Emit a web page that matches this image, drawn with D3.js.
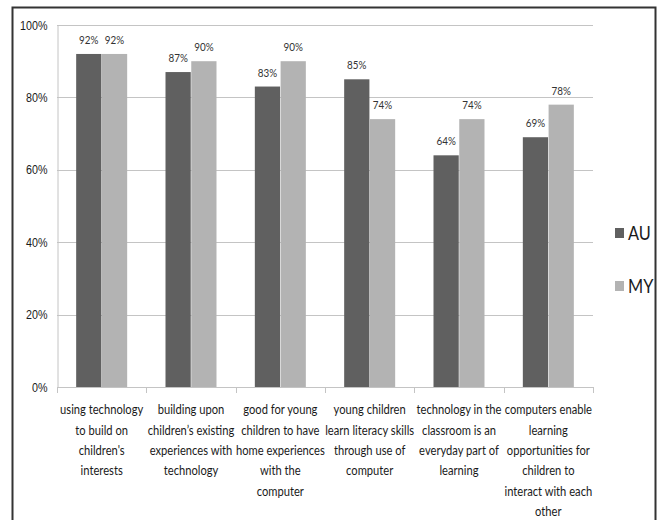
<!DOCTYPE html>
<html>
<head>
<meta charset="utf-8">
<script src="https://cdn.jsdelivr.net/npm/d3@7/dist/d3.min.js"></script>
<style>
  html, body { margin: 0; padding: 0; background: #fff; }
  svg { display: block; font-family: Lato, "Liberation Sans", sans-serif; }
</style>
</head>
<body>
<svg id="chart" width="665" height="520"></svg>
<script>
// Survey statements (x categories), wrapped into lines as shown under the axis
const categories = [
  ["using technology", "to build on", "children's", "interests"],
  ["building upon", "children\u2019s existing", "experiences with", "technology"],
  ["good for young", "children to have", "home experiences", "with the", "computer"],
  ["young children", "learn literacy skills", "through use of", "computer"],
  ["technology in the", "classroom is an", "everyday part of", "learning"],
  ["computers enable", "learning", "opportunities for", "children to", "interact with each", "other"]
];
const seriesNames = ["AU", "MY"];
const auValues = [92, 87, 83, 85, 64, 69];
const myValues = [92, 90, 90, 74, 74, 78];
const yTicks = [0, 20, 40, 60, 80, 100];
const colors = ["#606060", "#b3b3b3"];

// horizontal squeeze giving the narrow look of the lettering
const SX = 0.86;

const svg = d3.select("#chart");

// Outer frame
svg.append("rect")
  .attr("x", 12.5).attr("y", 7.5)
  .attr("width", 643).attr("height", 520)
  .attr("fill", "none").attr("stroke", "#333").attr("stroke-width", 2);

const plot = { left: 57, right: 593, top: 25, bottom: 387 };

const x = d3.scaleBand()
  .domain(d3.range(categories.length))
  .range([plot.left, plot.right]);

const groupWidth = 51;
const xInner = d3.scaleBand()
  .domain(seriesNames)
  .range([(x.bandwidth() - groupWidth) / 2, (x.bandwidth() + groupWidth) / 2])
  .paddingInner(0.02);

const y = d3.scaleLinear().domain([0, 100]).range([plot.bottom, plot.top]);

// Gridlines
svg.append("g")
  .selectAll("line")
  .data(yTicks.filter(d => d > 0))
  .join("line")
  .attr("x1", plot.left).attr("x2", plot.right)
  .attr("y1", d => Math.round(y(d)) + 0.5).attr("y2", d => Math.round(y(d)) + 0.5)
  .attr("stroke", "#c4c4c4").attr("stroke-width", 1);

// Y axis
const yAxis = d3.axisLeft(y).tickValues(yTicks).tickFormat(d => d + "%").tickSize(0).tickPadding(0);
const gy = svg.append("g").attr("transform", `translate(${plot.left + 0.5},0)`).call(yAxis);
gy.select(".domain").attr("stroke", "#c4c4c4");
gy.selectAll(".tick text")
  .attr("x", 0)
  .attr("transform", `translate(-10,0) scale(${SX},1)`)
  .attr("font-size", 12.5).attr("fill", "#1a1a1a");

// X axis line with category tick marks at band boundaries
const gx = svg.append("g");
gx.append("line")
  .attr("x1", plot.left).attr("x2", plot.right)
  .attr("y1", plot.bottom + 0.5).attr("y2", plot.bottom + 0.5)
  .attr("stroke", "#c4c4c4");
gx.selectAll("line.tick")
  .data(d3.range(categories.length + 1))
  .join("line")
  .attr("class", "tick")
  .attr("x1", i => Math.round(plot.left + i * x.step()) + 0.5)
  .attr("x2", i => Math.round(plot.left + i * x.step()) + 0.5)
  .attr("y1", plot.bottom).attr("y2", plot.bottom + 6)
  .attr("stroke", "#c4c4c4");

// Category labels
const labels = svg.append("g")
  .selectAll("text")
  .data(categories)
  .join("text")
  .attr("transform", (d, i) => `translate(${x(i) + x.bandwidth() / 2},0) scale(${SX},1)`)
  .attr("text-anchor", "middle")
  .attr("font-size", 13)
  .attr("fill", "#1a1a1a");
labels.each(function(lines) {
  const t = d3.select(this);
  lines.forEach((ln, k) => {
    t.append("tspan")
      .attr("x", 0)
      .attr("y", 414.5 + k * 20.3)
      .text(ln);
  });
});

// Bars
const rows = categories.map((c, i) => [
  { s: "AU", v: auValues[i], i },
  { s: "MY", v: myValues[i], i }
]);
const groups = svg.append("g")
  .selectAll("g")
  .data(rows)
  .join("g")
  .attr("transform", (d, i) => `translate(${x(i)},0)`);

groups.selectAll("rect")
  .data(d => d)
  .join("rect")
  .attr("x", d => xInner(d.s))
  .attr("width", xInner.bandwidth())
  .attr("y", d => y(d.v))
  .attr("height", d => y(0) - y(d.v))
  .attr("fill", d => colors[seriesNames.indexOf(d.s)]);

// Value labels
groups.selectAll("text")
  .data(d => d)
  .join("text")
  .attr("transform", d => `translate(${xInner(d.s) + xInner.bandwidth() / 2},${y(d.v) - 10}) scale(${SX},1)`)
  .attr("text-anchor", "middle")
  .attr("font-size", 11.5)
  .attr("fill", "#333")
  .text(d => d.v + "%");

// Legend
const legend = svg.append("g")
  .selectAll("g")
  .data(seriesNames)
  .join("g")
  .attr("transform", (d, i) => `translate(615,${233 + i * 53})`);
legend.append("rect")
  .attr("x", 0).attr("y", -5).attr("width", 9).attr("height", 10)
  .attr("fill", (d, i) => colors[i]);
legend.append("text")
  .attr("transform", `translate(13,0) scale(${SX},1)`)
  .attr("dy", "0.36em")
  .attr("font-size", 19)
  .attr("fill", "#1a1a1a")
  .text(d => d);
</script>
</body>
</html>
